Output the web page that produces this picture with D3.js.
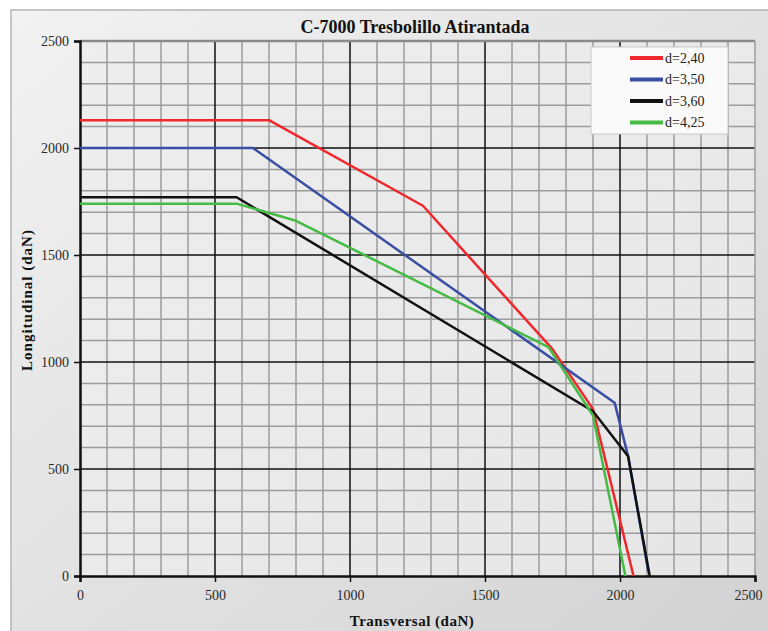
<!DOCTYPE html>
<html>
<head>
<meta charset="utf-8">
<script src="https://cdn.jsdelivr.net/npm/d3@7"></script>
<style>
  body { margin: 0; background: #fff; }
  text { font-family: "Liberation Serif", "DejaVu Serif", serif; }
</style>
</head>
<body>
<div id="chart"></div>
<script>
// series data: [transversal, longitudinal] in daN
const seriesNames = ["d=2,40", "d=3,50", "d=3,60", "d=4,25"];
const seriesColors = ["#f0282d", "#3a4ea3", "#111111", "#45bb45"];
const d240 = [[0, 2130], [700, 2130], [1270, 1730], [1750, 1060], [1900, 780], [2050, 0]];
const d350 = [[0, 2000], [640, 2000], [1980, 810], [2030, 560], [2105, 20]];
const d360 = [[0, 1770], [580, 1770], [1900, 770], [2030, 560], [2110, 0]];
const d425 = [[0, 1740], [580, 1740], [800, 1660], [1735, 1070], [1900, 750], [2020, 0]];
const seriesData = [d240, d350, d360, d425];
const xTicks = [0, 500, 1000, 1500, 2000, 2500];
const yTicks = [0, 500, 1000, 1500, 2000, 2500];

const width = 768, height = 631;
const margin = { top: 41, right: 13, bottom: 55, left: 80 };
const innerW = width - margin.left - margin.right;
const innerH = height - margin.top - margin.bottom;

const svg = d3.select("#chart").append("svg")
    .attr("width", width)
    .attr("height", height);

const defs = svg.append("defs");
const bgGrad = defs.append("linearGradient")
    .attr("id", "bg").attr("x1", "0").attr("y1", "0").attr("x2", "1").attr("y2", "1");
bgGrad.append("stop").attr("offset", "0%").attr("stop-color", "#f2f2f2");
bgGrad.append("stop").attr("offset", "100%").attr("stop-color", "#d2d2d2");
const plotGrad = defs.append("linearGradient")
    .attr("id", "plotbg").attr("x1", "0").attr("y1", "0").attr("x2", "1").attr("y2", "1");
plotGrad.append("stop").attr("offset", "0%").attr("stop-color", "#eeeeee");
plotGrad.append("stop").attr("offset", "100%").attr("stop-color", "#e6e6e6");

// outer panel
svg.append("rect")
    .attr("x", 11).attr("y", 10)
    .attr("width", width).attr("height", height)
    .attr("fill", "url(#bg)")
    .attr("stroke", "#b4b4b4").attr("stroke-width", 1.5);

svg.append("text")
    .attr("x", 415).attr("y", 33)
    .attr("text-anchor", "middle")
    .style("font-size", "18px").style("font-weight", "bold")
    .attr("fill", "#111")
    .text("C-7000 Tresbolillo Atirantada");

const g = svg.append("g").attr("transform", `translate(${margin.left},${margin.top})`);

const x = d3.scaleLinear().domain([0, 2500]).range([0, innerW]);
const y = d3.scaleLinear().domain([0, 2500]).range([innerH, 0]);

g.append("rect")
    .attr("width", innerW).attr("height", innerH)
    .attr("fill", "url(#plotbg)");

// grid: minor every 100, major every 500
const minor = d3.range(100, 2500, 100).filter(v => v % 500 !== 0);
const major = d3.range(500, 2500, 500);

g.selectAll("line.vminor").data(minor).enter().append("line")
    .attr("x1", d => x(d)).attr("x2", d => x(d))
    .attr("y1", 0).attr("y2", innerH)
    .attr("stroke", "#9c9c9c").attr("stroke-width", 1.5);
g.selectAll("line.hminor").data(minor).enter().append("line")
    .attr("y1", d => y(d)).attr("y2", d => y(d))
    .attr("x1", 0).attr("x2", innerW)
    .attr("stroke", "#9c9c9c").attr("stroke-width", 1.5);
g.selectAll("line.vmajor").data(major).enter().append("line")
    .attr("x1", d => x(d)).attr("x2", d => x(d))
    .attr("y1", 0).attr("y2", innerH)
    .attr("stroke", "#111").attr("stroke-width", 1.5);
g.selectAll("line.hmajor").data(major).enter().append("line")
    .attr("y1", d => y(d)).attr("y2", d => y(d))
    .attr("x1", 0).attr("x2", innerW)
    .attr("stroke", "#111").attr("stroke-width", 1.5);

// top and right border of plot
g.append("line").attr("x1", 0).attr("x2", innerW).attr("y1", y(2500)).attr("y2", y(2500))
    .attr("stroke", "#8a8a8a").attr("stroke-width", 2.5);
g.append("line").attr("x1", x(2500)).attr("x2", x(2500)).attr("y1", 0).attr("y2", innerH)
    .attr("stroke", "#9c9c9c").attr("stroke-width", 1.5);

// axes
const fmt = d3.format("d");
const xAxis = g.append("g")
    .attr("transform", `translate(0,${innerH})`)
    .call(d3.axisBottom(x).tickValues(xTicks).tickFormat(fmt).tickSize(6).tickPadding(8));
const yAxis = g.append("g")
    .call(d3.axisLeft(y).tickValues(yTicks).tickFormat(fmt).tickSize(6).tickPadding(5));

[xAxis, yAxis].forEach(ax => {
    ax.select(".domain").attr("stroke", "#111").attr("stroke-width", 2.5);
    ax.selectAll(".tick line").attr("stroke", "#111").attr("stroke-width", 1.5);
    ax.selectAll(".tick text")
        .attr("fill", "#2a2a2a")
        .style("font-family", "'Liberation Serif', serif")
        .style("font-size", "14px");
});
// last x label sits at the right edge of the panel
xAxis.selectAll(".tick text").filter(d => d === 2500).attr("dx", "-0.5em");

// series lines
const line = d3.line().x(d => x(d[0])).y(d => y(d[1]));
g.selectAll("path.series").data(seriesData).enter().append("path")
    .attr("class", "series")
    .attr("d", line)
    .attr("fill", "none")
    .attr("stroke", (d, i) => seriesColors[i])
    .attr("stroke-width", 2.5)
    .attr("stroke-linejoin", "round");

// axis titles
svg.append("text")
    .attr("x", 412).attr("y", 626)
    .attr("text-anchor", "middle")
    .style("font-size", "15px").style("font-weight", "bold")
    .style("letter-spacing", "0.5px")
    .attr("fill", "#111")
    .text("Transversal (daN)");
svg.append("text")
    .attr("transform", "translate(32,300) rotate(-90)")
    .attr("text-anchor", "middle")
    .style("font-size", "15px").style("font-weight", "bold")
    .style("letter-spacing", "1px")
    .attr("fill", "#111")
    .text("Longitudinal (daN)");

// legend
const legend = svg.append("g").attr("transform", "translate(591,47)");
legend.append("rect")
    .attr("width", 137).attr("height", 87)
    .attr("fill", "#fafafa")
    .attr("stroke", "#c8c8c8").attr("stroke-width", 1);
const items = legend.selectAll("g.item").data(seriesNames).enter().append("g")
    .attr("transform", (d, i) => `translate(0,${11 + i * 21.5})`);
items.append("line")
    .attr("x1", 39).attr("x2", 72)
    .attr("stroke", (d, i) => seriesColors[i])
    .attr("stroke-width", 4);
items.append("text")
    .attr("x", 74).attr("y", 0).attr("dy", "0.35em")
    .style("font-size", "14px")
    .attr("fill", "#222")
    .text(d => d);
</script>
</body>
</html>
